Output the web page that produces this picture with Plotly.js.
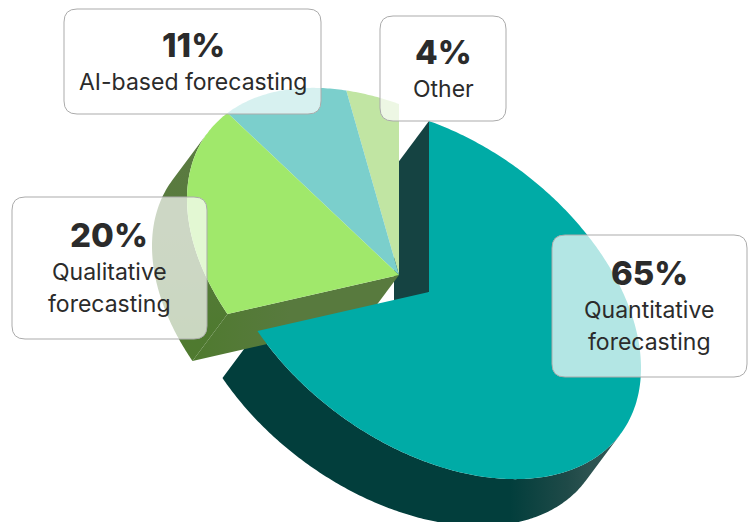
<!DOCTYPE html>
<html>
<head>
<meta charset="utf-8">
<script src="https://cdn.plot.ly/plotly-3.0.1.min.js"></script>
<style>html,body{margin:0;padding:0;background:#fff}#chart{width:753px;height:522px}</style>
</head>
<body>
<div id="chart"></div>
<script>
// Forecasting methods, share of respondents (%)
const categories = ["Quantitative forecasting", "Qualitative forecasting", "AI-based forecasting", "Other"];
const shares = [65, 20, 11, 4];
const topColors = ["#00ABA6", "#A0E86B", "#7BCFCC", "#C1E5A3"];

// Projection of the tilted disc onto the page: the axes run in pixels
const hub = [399, 275];          // centre of the unexploded slices
const explode = [30, 17];        // offset of the leading slice
const axisU = [0, -171];         // disc radius at angle 0
const axisV = [212, 76];         // disc radius at angle 90
const depth = [-35, 47];         // extrusion direction

const rad = d => d * Math.PI / 180;
function rimPoint(c, deg, off) {
  const s = Math.sin(rad(deg)), k = Math.cos(rad(deg));
  return [c[0] + k * axisU[0] + s * axisV[0] + (off ? depth[0] : 0),
          c[1] + k * axisU[1] + s * axisV[1] + (off ? depth[1] : 0)];
}
function arc(c, a, b, off) {
  const n = Math.max(8, Math.ceil(Math.abs(b - a) * 1.5)), pts = [];
  for (let i = 0; i <= n; i++) pts.push(rimPoint(c, a + (b - a) * i / n, off));
  return pts;
}
function poly(pts, extra) {
  return Object.assign({
    type: "scatter", mode: "none", fill: "toself", hoverinfo: "skip", showlegend: false,
    x: pts.map(p => p[0]), y: pts.map(p => p[1])
  }, extra);
}

// Angles at which the disc outline runs parallel to the extrusion: the walls
// are only visible between these silhouette points
const tangentA = Math.atan2(
  axisV[0] * depth[1] - axisV[1] * depth[0],
  axisU[0] * depth[1] - axisU[1] * depth[0]
) * 180 / Math.PI;
const silhouette = [(tangentA + 360) % 180, (tangentA + 360) % 180 + 180];

// Slice angles from the shares
const total = shares.reduce((a, b) => a + b, 0);
let run = 0;
const spans = shares.map(v => { const a = run; run += v / total * 360; return [a, run]; });
const leadHub = [hub[0] + explode[0], hub[1] + explode[1]];

const traces = [];
// Outer wall of the leading slice, catching light at its far right end
const leadFrom = Math.max(spans[0][0], silhouette[0]);
traces.push(poly(arc(leadHub, leadFrom, spans[0][1], false)
  .concat(arc(leadHub, spans[0][1], leadFrom, true)), {
  fillgradient: {type: "horizontal", start: 510, stop: 625,
    colorscale: [[0, "#023E3C"], [0.5, "#1F4A48"], [0.7, "#2D5351"], [1, "#2F5553"]]}
}));
// Cut face of the leading slice at angle 0
const a0 = rimPoint(leadHub, spans[0][0], false), a1 = rimPoint(leadHub, spans[0][0], true);
traces.push(poly([a0, leadHub, [leadHub[0] + depth[0], leadHub[1] + depth[1]], a1], {fillcolor: "#154342"}));
// Outer and cut walls of the second slice
const g = spans[1];
const greenTo = Math.min(g[1], silhouette[1]);
traces.push(poly(arc(hub, g[0], greenTo, false).concat(arc(hub, greenTo, g[0], true)), {
  fillgradient: {type: "vertical", start: 140, stop: 361,
    colorscale: [[0, "#5B7B42"], [0.55, "#567A3A"], [0.85, "#4F7A30"], [1, "#4F7A2F"]]}
}));
const gs = rimPoint(hub, g[0], false), ge = rimPoint(hub, g[0], true);
traces.push(poly([hub, gs, ge, [hub[0] + depth[0], hub[1] + depth[1]]], {
  fillgradient: {type: "horizontal", start: 193, stop: 290,
    colorscale: [[0, "#4F7A2F"], [0.5, "#547A37"], [1, "#587A3E"]]}
}));

// Top faces: the detached slice is painted last, it sits in front
for (let i = shares.length - 1; i >= 0; i--) {
  const c = i === 0 ? leadHub : hub;
  traces.push(poly([c].concat(arc(c, spans[i][0], spans[i][1], false)), {fillcolor: topColors[i]}));
}

// Rounded call-out cards
function card(x0, y0, x1, y1) {
  const r = 13;
  return {
    type: "path", layer: "above", xref: "x", yref: "y",
    path: `M${x0 + r},${y0}L${x1 - r},${y0}Q${x1},${y0} ${x1},${y0 + r}L${x1},${y1 - r}Q${x1},${y1} ${x1 - r},${y1}L${x0 + r},${y1}Q${x0},${y1} ${x0},${y1 - r}L${x0},${y0 + r}Q${x0},${y0} ${x0 + r},${y0}Z`,
    fillcolor: "rgba(255,255,255,0.7)", line: {color: "#ABABAB", width: 1}
  };
}
const ink = "#2B2B2B", face = "Inter, 'Noto Sans', sans-serif";
const note = (x, y, text, size, weight) => ({
  x, y, text, xref: "x", yref: "y", showarrow: false, xanchor: "center", yanchor: "middle",
  font: {family: face, size, color: ink, weight}
});
const pct = i => shares[i] + "%";
const [l0a, l0b] = categories[0].split(" ");
const [l1a, l1b] = categories[1].split(" ");

const layout = {
  width: 753, height: 522, margin: {l: 0, r: 0, t: 0, b: 0, pad: 0},
  paper_bgcolor: "#fff", plot_bgcolor: "#fff", showlegend: false,
  xaxis: {range: [0, 753], visible: false, fixedrange: true},
  yaxis: {range: [522, 0], visible: false, fixedrange: true},
  shapes: [card(64, 9, 321, 114), card(380, 16, 506, 121), card(12, 197, 207, 339), card(552, 235, 747, 377)],
  annotations: [
    note(193, 45, pct(2), 33, 800), note(193, 82, categories[2], 23, 400),
    note(443, 52, pct(3), 33, 800), note(443, 89, categories[3], 23, 400),
    note(109, 235, pct(1), 33, 800), note(109, 272, l1a, 23, 400), note(109, 304, l1b, 23, 400),
    note(649, 273, pct(0), 33, 800), note(649, 310, l0a, 23, 400), note(649, 342, l0b, 23, 400)
  ]
};
Plotly.newPlot("chart", traces, layout, {displayModeBar: false, staticPlot: true});
</script>
</body>
</html>
